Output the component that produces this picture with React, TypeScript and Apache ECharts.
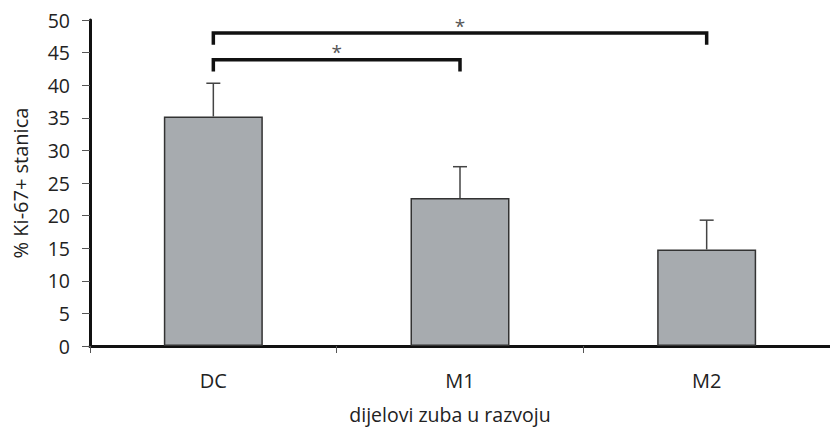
import React, { useEffect, useRef } from 'react';
import * as echarts from 'echarts';

const categories = ['DC', 'M1', 'M2'];
const means = [35.2, 22.7, 14.8];
const upperErr = [40.3, 27.5, 19.3];

const yMin = 0;
const yMax = 50;
const yInterval = 5;

const bracketFrom = [0, 0];
const bracketTo = [1, 2];
const bracketLevel = [43.9, 48.0];
const bracketDrop = [42.1, 46.2];
const bracketLabel = ['*', '*'];

const yAxisTitle = '% Ki-67+ stanica';
const xAxisTitle = 'dijelovi zuba u razvoju';

const FONT = '"Open Sans", "Noto Sans", sans-serif';

export default function App() {
  const ref = useRef<HTMLDivElement>(null);

  useEffect(() => {
    if (!ref.current) return;
    const chart = echarts.init(ref.current, undefined, { renderer: 'svg' });

    const errData = categories.map((_, i) => [i, means[i], upperErr[i]]);
    const bracketData = bracketFrom.map((f, i) => [f, bracketTo[i], bracketLevel[i], bracketDrop[i]]);

    chart.setOption({
      animation: false,
      backgroundColor: '#ffffff',
      grid: { left: 90, right: 0, top: 20, bottom: 83, outerBoundsMode: 'none', containLabel: false },
      xAxis: {
        type: 'category',
        data: categories,
        boundaryGap: true,
        name: xAxisTitle,
        nameLocation: 'middle',
        nameGap: 59,
        nameTextStyle: { fontFamily: FONT, fontSize: 19.5, lineHeight: 19, color: '#222', padding: [0, 20, 0, 0] },
        axisLine: { lineStyle: { color: '#111', width: 3 } },
        axisTick: { show: true, alignWithLabel: false, length: 7, lineStyle: { color: '#555', width: 1 } },
        axisLabel: { fontFamily: FONT, fontSize: 20, color: '#222', margin: 24 },
        splitLine: { show: false },
      },
      yAxis: {
        type: 'value',
        min: yMin,
        max: yMax,
        interval: yInterval,
        name: yAxisTitle,
        nameLocation: 'middle',
        nameGap: 60,
        nameTextStyle: { fontFamily: FONT, fontSize: 20, color: '#222' },
        axisLine: { show: true, lineStyle: { color: '#111', width: 3 } },
        axisTick: { show: true, length: 8, lineStyle: { color: '#555', width: 1 } },
        axisLabel: { fontFamily: FONT, fontSize: 19.5, color: '#222', margin: 20 },
        splitLine: { show: false },
      },
      series: [
        {
          type: 'bar',
          data: means,
          barWidth: 99,
          itemStyle: { color: '#a7abaf', borderColor: '#333', borderWidth: 1.5 },
          z: 2,
        },
        {
          type: 'custom',
          data: errData,
          z: 3,
          renderItem: (params: any, api: any) => {
            const x = api.value(0);
            const top = api.coord([x, api.value(2)]);
            const base = api.coord([x, api.value(1)]);
            const cap = 7;
            return {
              type: 'group',
              children: [
                { type: 'line', shape: { x1: top[0], y1: base[1], x2: top[0], y2: top[1] }, style: { stroke: '#444', lineWidth: 1.5 } },
                { type: 'line', shape: { x1: top[0] - cap, y1: top[1], x2: top[0] + cap, y2: top[1] }, style: { stroke: '#444', lineWidth: 1.5 } },
              ],
            };
          },
        },
        {
          type: 'custom',
          data: bracketData,
          z: 4,
          clip: false,
          renderItem: (params: any, api: any) => {
            const a = api.coord([api.value(0), api.value(2)]);
            const b = api.coord([api.value(1), api.value(2)]);
            const d = api.coord([api.value(0), api.value(3)]);
            const idx = params.dataIndex;
            return {
              type: 'group',
              children: [
                {
                  type: 'polyline',
                  shape: { points: [[a[0], d[1]], [a[0], a[1]], [b[0], b[1]], [b[0], d[1]]] },
                  style: { stroke: '#111', lineWidth: 3.5, fill: 'none', lineJoin: 'miter' },
                },
                {
                  type: 'text',
                  x: (a[0] + b[0]) / 2,
                  y: a[1] + 2,
                  style: { text: bracketLabel[idx], fill: '#555', fontFamily: FONT, fontSize: 19, align: 'center', verticalAlign: 'bottom' },
                },
              ],
            };
          },
        },
      ],
    });

    return () => chart.dispose();
  }, []);

  return <div ref={ref} style={{ position: 'fixed', left: 0, top: 0, width: 830, height: 429 }} />;
}
